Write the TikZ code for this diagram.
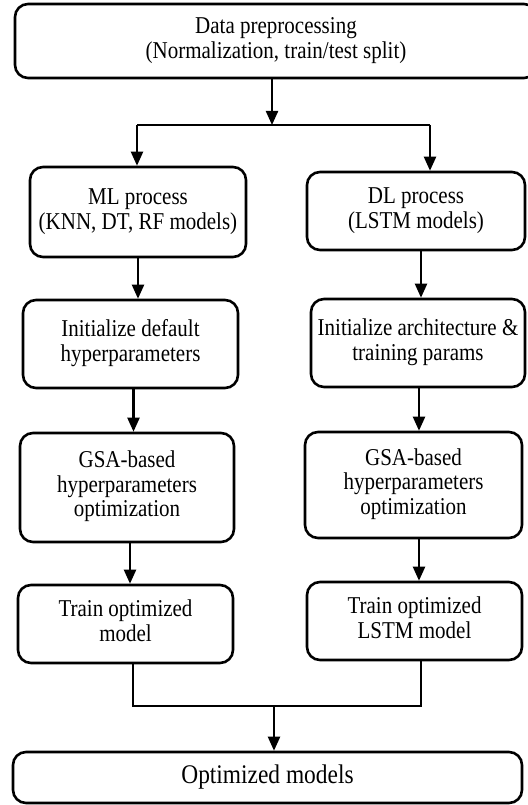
\documentclass[tikz,border=0pt]{standalone}
\usepackage{fontspec}
\setmainfont{Liberation Serif}
\usepackage{graphicx}
\usetikzlibrary{arrows.meta}
% slightly tall, centred multi-line label
\newcommand\stxt[1]{\scalebox{1}[1.15]{\begin{tabular}{@{}c@{}}#1\end{tabular}}}
\begin{document}
\begin{tikzpicture}[x=1pt,y=-1pt,
  box/.style={draw, line width=2.6pt, rounded corners=13pt, inner sep=0pt,
    font=\fontsize{21}{21.3}\selectfont},
  arr/.style={line width=2.2pt, -{Triangle[width=12pt,length=14pt]}},
  link/.style={line width=2.2pt}]
\useasboundingbox (0,0) rectangle (527,805);

% boxes
\node[box, minimum width=522, minimum height=74] (prep) at (276,41)
  {\stxt{Data preprocessing\\(Normalization, train/test split)}};
\node[box, minimum width=216, minimum height=90] (ml) at (138,212)
  {\stxt{ML process\\(KNN, DT, RF models)}};
\node[box, minimum width=218, minimum height=78] (dl) at (416,211)
  {\stxt{DL process\\(LSTM models)}};
\node[box, minimum width=215, minimum height=88] (initl) at (130.5,344)
  {\stxt{Initialize default\\hyperparameters}};
\node[box, minimum width=214, minimum height=88] (initr) at (418,343)
  {\stxt{Initialize architecture \&\\training params}};
\node[box, minimum width=214, minimum height=109] (gsal) at (127,487.5)
  {\stxt{GSA-based\\hyperparameters\\optimization}};
\node[box, minimum width=217, minimum height=106] (gsar) at (413.5,485)
  {\stxt{GSA-based\\hyperparameters\\optimization}};
\node[box, minimum width=215, minimum height=78] (trainl) at (125.5,624)
  {\stxt{Train optimized\\model}};
\node[box, minimum width=215, minimum height=78] (trainr) at (414.5,621)
  {\stxt{Train optimized\\LSTM model}};
\node[box, minimum width=509, minimum height=51, font=\fontsize{23.4}{24}\selectfont]
  (final) at (267.5,777.5) {\stxt{Optimized models}};

% split into the two branches
\coordinate (split) at (272,125);
\coordinate (splitL) at (137,125);
\coordinate (splitR) at (430,125);
\draw[arr] (prep.south -| split) -- (split);
\draw[link] (splitL) -- (splitR);
\draw[arr] (splitL) -- (splitL |- ml.north);
\draw[arr] (splitR) -- (splitR |- dl.north);

% ML branch
\draw[arr] (ml.south) -- (ml.south |- initl.north);
\draw[arr] ([xshift=3pt]initl.south) -- ([xshift=3pt]initl.south |- gsal.north);
\draw[arr] ([xshift=3pt]gsal.south) -- ([xshift=3pt]gsal.south |- trainl.north);

% DL branch
\draw[arr] ([xshift=5pt]dl.south) -- ([xshift=5pt]dl.south |- initr.north);
\draw[arr] ([xshift=1pt]initr.south) -- ([xshift=1pt]initr.south |- gsar.north);
\draw[arr] ([xshift=5.5pt]gsar.south) -- ([xshift=5.5pt]gsar.south |- trainr.north);

% merge into the final result
\coordinate (mergeL) at (133,706);
\coordinate (mergeR) at (421,706);
\coordinate (merge) at (274,706);
\draw[link] (trainl.south -| mergeL) -- (mergeL) -- (mergeR) -- (trainr.south -| mergeR);
\draw[arr] (merge) -- (merge |- final.north);
\end{tikzpicture}
\end{document}
